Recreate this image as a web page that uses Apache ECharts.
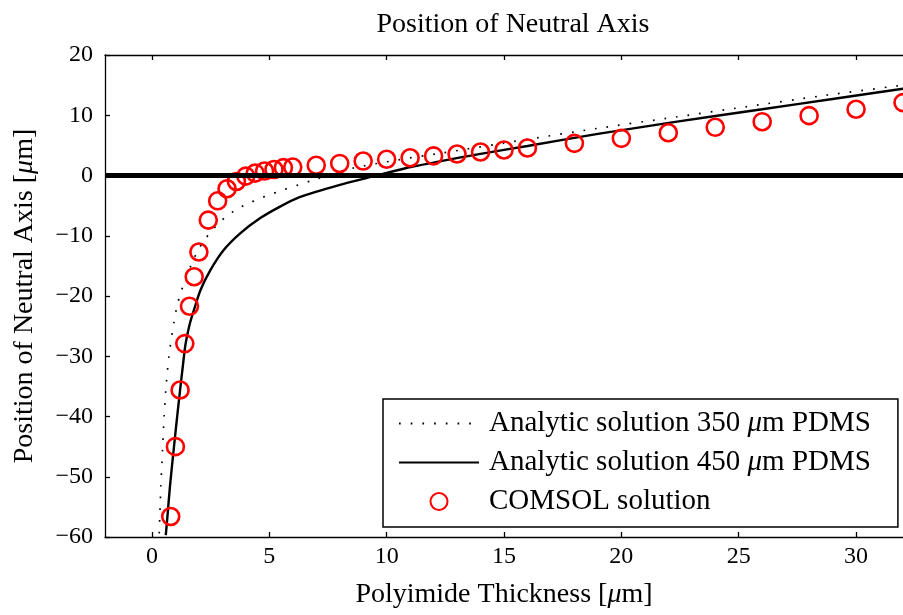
<!DOCTYPE html>
<html>
<head>
<meta charset="utf-8">
<script src="https://cdn.jsdelivr.net/npm/echarts@6/dist/echarts.min.js"></script>
<style>
  html, body { margin: 0; padding: 0; background: #fff; }
  #chart { width: 903px; height: 615px; }
</style>
</head>
<body>
<div id="chart"></div>
<script>
// analytic curve, 350 um PDMS (dotted)
var pdms350X = [0.31, 0.38, 0.45, 0.52, 0.59, 0.73, 0.94, 1.08, 1.22, 1.5, 1.72, 1.95, 2.2, 2.56, 2.91, 3.26, 3.76, 4.18, 4.67, 5.09, 5.58, 7.0, 8.54, 10.5, 12.3, 16, 18.95, 22.3, 25.3, 28.5, 32];
var pdms350Y = [-59.4, -51.6, -45.6, -40.0, -35.6, -29.8, -24.3, -21.5, -19.5, -16.5, -14.4, -12.5, -10.9, -9.1, -7.7, -6.5, -5.3, -4.5, -3.7, -3.1, -2.4, -0.6, 1.2, 2.6, 3.7, 6.0, 7.8, 9.7, 11.4, 13.2, 15.0];

// analytic curve, 450 um PDMS (solid)
var pdms450X = [0.59, 0.66, 0.77, 0.94, 1.08, 1.2, 1.32, 1.43, 1.6, 1.79, 2.07, 2.49, 3.05, 3.76, 4.6, 5.44, 6.29, 7.97, 9.38, 10.8, 12.2, 14, 16, 19, 22.3, 26, 29, 32];
var pdms450Y = [-59.7, -56.6, -51.5, -45, -39.8, -35.6, -31.5, -28, -24.8, -22.3, -19.0, -15.7, -12.4, -9.6, -7.1, -5.2, -3.6, -1.6, -0.2, 1.2, 2.3, 3.6, 4.9, 6.9, 8.9, 11.0, 12.7, 14.4];

// COMSOL points
var comsolX = [0.8, 1.0, 1.2, 1.4, 1.6, 1.8, 2.0, 2.4, 2.8, 3.2, 3.6, 4.0, 4.4, 4.8, 5.2, 5.6, 6.0, 7, 8, 9, 10, 11, 12, 13, 14, 15, 16, 18, 20, 22, 24, 26, 28, 30, 32];
var comsolY = [-56.6, -45.0, -35.6, -27.9, -21.7, -16.8, -12.7, -7.4, -4.2, -2.2, -1.0, -0.1, 0.4, 0.75, 1.0, 1.3, 1.4, 1.7, 2.0, 2.4, 2.7, 2.95, 3.25, 3.57, 3.9, 4.23, 4.56, 5.34, 6.17, 7.1, 8.0, 8.93, 9.93, 11.0, 12.1];

var xTicks = [0, 5, 10, 15, 20, 25, 30];
var zeroLineX = [-2, 32];

function pairs(xs, ys) {
  return xs.map(function (x, i) { return [x, ys[i]]; });
}

var font = '"Liberation Serif", "DejaVu Serif", serif';
var rich = {
  n: { fontFamily: font, fontSize: 28, color: '#000' },
  i: { fontFamily: font, fontSize: 28, fontStyle: 'italic', color: '#000' }
};
var legendRich = {
  n: { fontFamily: font, fontSize: 29, color: '#000' },
  i: { fontFamily: font, fontSize: 29, fontStyle: 'italic', color: '#000' }
};

var chart = echarts.init(document.getElementById('chart'));

var axisLine = { onZero: false, lineStyle: { color: '#000', width: 1.3 } };

var option = {
  animation: false,
  backgroundColor: '#fff',
  title: {
    text: 'Position of Neutral Axis',
    left: 508,
    textAlign: 'center',
    top: 6,
    textStyle: { fontFamily: font, fontSize: 28, fontWeight: 'normal', color: '#000' }
  },
  grid: { left: 105, top: 55, bottom: 78, right: -8 },
  xAxis: [{
    type: 'value',
    min: -2,
    max: 32,
    name: '{n|Polyimide Thickness [}{i|μ}{n|m]}',
    nameLocation: 'middle',
    nameGap: 44,
    nameTextStyle: { rich: rich },
    axisLine: axisLine,
    axisTick: { inside: true, length: 5, customValues: xTicks, lineStyle: { color: '#000', width: 1.3 } },
    axisLabel: { customValues: xTicks, fontFamily: font, fontSize: 24, color: '#000', margin: 8 },
    splitLine: { show: false }
  }, {
    type: 'value',
    position: 'top',
    min: -2,
    max: 32,
    axisLine: axisLine,
    axisTick: { inside: true, length: 5, customValues: xTicks, lineStyle: { color: '#000', width: 1.3 } },
    axisLabel: { show: false },
    splitLine: { show: false }
  }],
  yAxis: {
    type: 'value',
    min: -60,
    max: 20,
    interval: 10,
    name: '{n|Position of Neutral Axis [}{i|μ}{n|m]}',
    nameLocation: 'middle',
    nameGap: 66,
    nameTextStyle: { rich: rich },
    axisLine: axisLine,
    axisTick: { inside: true, length: 5, lineStyle: { color: '#000', width: 1.3 } },
    axisLabel: {
      fontFamily: font, fontSize: 24, color: '#000', margin: 12,
      formatter: function (v) { return v < 0 ? '\u2212' + Math.abs(v) : String(v); }
    },
    splitLine: { show: false }
  },
  legend: {
    orient: 'vertical',
    left: 383,
    top: 399,
    itemWidth: 80,
    itemHeight: 17,
    itemGap: 10,
    padding: [10, 27, 11, 15],
    backgroundColor: '#fff',
    borderColor: '#000',
    borderWidth: 1.5,
    borderRadius: 0,
    data: [
      { name: 'Analytic solution 350 μm PDMS', itemStyle: { opacity: 0 } },
      { name: 'Analytic solution 450 μm PDMS', itemStyle: { opacity: 0 } },
      { name: 'COMSOL solution' }
    ],
    formatter: function (name) {
      if (name.indexOf('μ') >= 0) {
        var parts = name.split('μ');
        return '{n|' + parts[0] + '}{i|μ}{n|' + parts[1] + '}';
      }
      return '{n|' + name + '}';
    },
    textStyle: { rich: legendRich, padding: [0, 0, 0, 5] }
  },
  series: [{
    name: 'Analytic solution 350 μm PDMS',
    type: 'line',
    data: pairs(pdms350X, pdms350Y),
    showSymbol: false,
    symbol: 'none',
    smooth: 0.25,
    lineStyle: { color: '#000', width: 1.7, type: [1.7, 10] },
    itemStyle: { color: '#000' },
    z: 2
  }, {
    name: 'Analytic solution 450 μm PDMS',
    type: 'line',
    data: pairs(pdms450X, pdms450Y),
    showSymbol: false,
    symbol: 'none',
    smooth: 0.25,
    lineStyle: { color: '#000', width: 2.4 },
    itemStyle: { color: '#000' },
    z: 2
  }, {
    name: 'zero',
    type: 'line',
    data: zeroLineX.map(function (x) { return [x, 0]; }),
    showSymbol: false,
    symbol: 'none',
    lineStyle: { color: '#000', width: 5 },
    z: 3
  }, {
    name: 'COMSOL solution',
    type: 'scatter',
    data: pairs(comsolX, comsolY),
    symbol: 'circle',
    symbolSize: 17,
    itemStyle: { color: 'rgba(255,0,0,0)', borderColor: '#ff0000', borderWidth: 2.6, opacity: 1 },
    z: 2
  }]
};

chart.setOption(option);
</script>
</body>
</html>
